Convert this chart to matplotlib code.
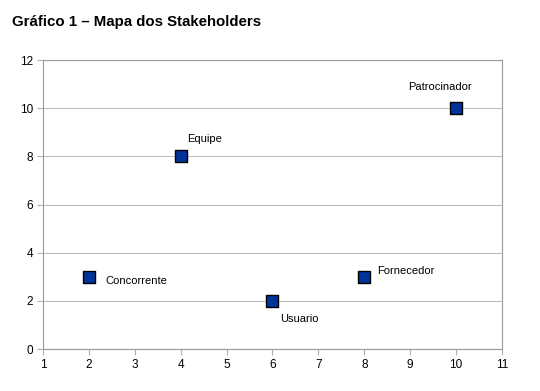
import matplotlib.pyplot as plt

plt.rcParams['font.family'] = ['Liberation Sans', 'DejaVu Sans']

# Stakeholders (x, y)
names = ['Concorrente', 'Usuario', 'Equipe', 'Fornecedor', 'Patrocinador']
xs = [2, 6, 4, 8, 10]
ys = [3, 2, 8, 3, 10]

# label offsets in points, relative to the marker
offsets = {
    'Concorrente': (12.2, -2.9),
    'Usuario': (5.8, -13.0),
    'Equipe': (4.3, 12.2),
    'Fornecedor': (9.4, 4.3),
    'Patrocinador': (-34.5, 15.0),
}

fig = plt.figure(figsize=(5.4, 3.91), dpi=100)
ax = fig.add_axes([0.0796, 0.1074, 0.85, 0.7391])

ax.scatter(xs, ys, marker='s', s=80, color='#003399', edgecolor='black',
           linewidth=1, zorder=3)

for n, x, y in zip(names, xs, ys):
    ax.annotate(n, (x, y), xytext=offsets[n], textcoords='offset points',
                ha='left', va='center', fontsize=8)

ax.set_xlim(1, 11)
ax.set_ylim(0, 12)
ax.set_xticks(range(1, 12))
ax.set_yticks(range(0, 13, 2))
ax.grid(axis='y', color='#c0c0c0', linewidth=0.8)
ax.set_axisbelow(True)
for s in ax.spines.values():
    s.set_linestyle((0, (1, 1)))
    s.set_color('#999999')
    s.set_linewidth(0.8)
ax.tick_params(length=4, width=0.8, color='#b0b0b0', labelsize=8.5, pad=3)

fig.text(0.022, 0.944, 'Gráfico 1 – Mapa dos Stakeholders', fontsize=10.8,
         fontweight='bold', ha='left', va='center')

fig.savefig('out.png', dpi=100)
